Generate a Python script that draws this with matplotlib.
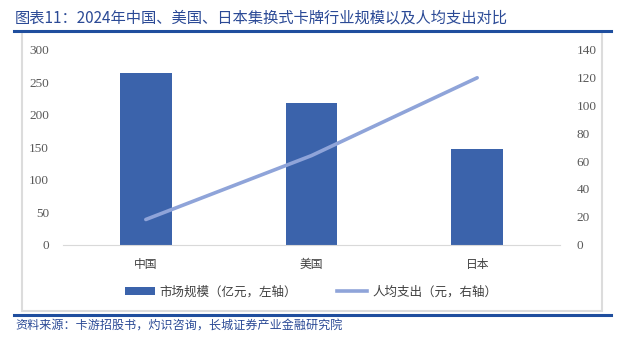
import matplotlib
matplotlib.use("Agg")
import matplotlib.pyplot as plt
from matplotlib.lines import Line2D
from matplotlib.patches import Rectangle, Patch

plt.rcParams['font.family'] = ['Noto Sans CJK SC', 'DejaVu Sans']

categories = ['中国', '美国', '日本']
market_size = [264, 219, 147]       # 亿元, left axis
per_capita = [18, 64, 120]          # 元, right axis
left_ticks = [0, 50, 100, 150, 200, 250, 300]
right_ticks = [0, 20, 40, 60, 80, 100, 120, 140]

title = '图表11：2024年中国、美国、日本集换式卡牌行业规模以及人均支出对比'
source = '资料来源：卡游招股书，灼识咨询，长城证券产业金融研究院'
bar_label = '市场规模（亿元，左轴）'
line_label = '人均支出（元，右轴）'

W, H = 623, 354
fig = plt.figure(figsize=(W / 100, H / 100), dpi=100)

bar_color = '#3B63AB'
line_color = '#8FA4D9'
title_color = '#2B4A96'
tick_color = '#595959'

# decorations: blue rules and gray frame
fig.add_artist(Line2D([14 / W, 611 / W], [1 - 31 / H, 1 - 31 / H], color='#1F4E9E', lw=2.2))
fig.add_artist(Line2D([14 / W, 611 / W], [1 - 315 / H, 1 - 315 / H], color='#1F4E9E', lw=2.2))
fig.add_artist(Rectangle((22 / W, 1 - 311 / H), 580 / W, 279 / H, fill=False,
                         edgecolor='#DCDCDC', lw=1.5))

fig.text(15 / W, 1 - 18 / H, title, fontsize=11, color=title_color, va='center', ha='left',
         style='italic')
fig.text(15 / W, 1 - 326 / H, source, fontsize=8.7, color=title_color, va='center', ha='left',
         style='italic')

ax = fig.add_axes([63 / W, 1 - 244.5 / H, 497 / W, 194.5 / H])
x = list(range(len(categories)))
ax.bar(x, market_size, width=0.31, color=bar_color, zorder=2)
ax.set_xlim(-0.5, len(categories) - 0.5)
ax.set_ylim(0, 300)
ax.set_yticks(left_ticks)
ax.set_xticks(x)
ax.set_xticklabels(categories, fontsize=8.5, color='#404040')
for s in ['top', 'right', 'left']:
    ax.spines[s].set_visible(False)
ax.spines['bottom'].set_color('#D9D9D9')
ax.tick_params(axis='x', length=0, pad=10)
ax.tick_params(axis='y', length=0, pad=10, labelsize=9.5, labelcolor=tick_color)
for lab in ax.get_yticklabels():
    lab.set_family(['Liberation Serif'])

ax2 = ax.twinx()
ax2.plot(x, per_capita, color=line_color, lw=2.6, solid_capstyle='round', zorder=3)
ax2.set_ylim(0, 140)
ax2.set_yticks(right_ticks)
for s in ['top', 'right', 'left', 'bottom']:
    ax2.spines[s].set_visible(False)
ax2.tick_params(axis='y', length=0, pad=12, labelsize=9.5, labelcolor=tick_color)
for lab in ax2.get_yticklabels():
    lab.set_family(['Liberation Serif'])

handles = [Patch(facecolor=bar_color, edgecolor='none'),
           Line2D([0], [0], color=line_color, lw=2.6)]
fig.legend(handles, [bar_label, line_label], loc='center', ncol=2,
           bbox_to_anchor=(311 / W, 1 - 292 / H), frameon=False, fontsize=9,
           handlelength=2.4, handleheight=0.6, columnspacing=3.2, handletextpad=0.4,
           labelcolor='#404040')

fig.savefig('out.png', dpi=100)
